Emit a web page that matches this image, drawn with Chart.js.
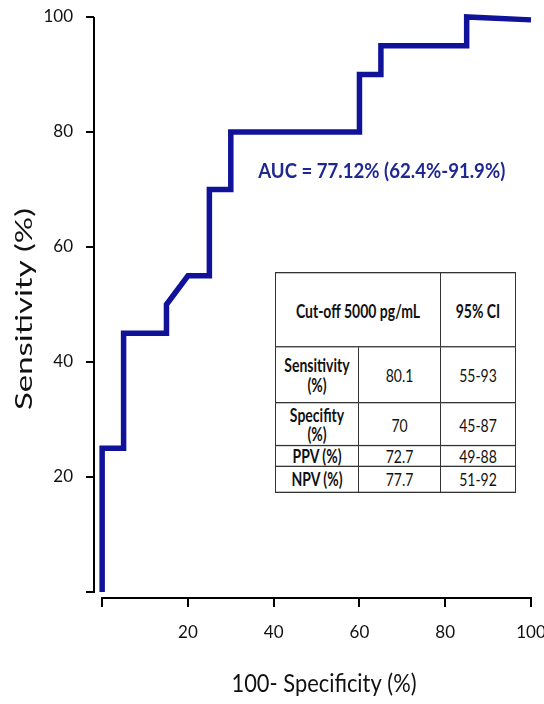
<!DOCTYPE html>
<html lang="en">
<head>
    <meta charset="UTF-8">
    <title>ROC curve</title>
    <script src="https://cdn.jsdelivr.net/npm/chart.js"></script>
    <style>
        html, body {
            margin: 0;
            padding: 0;
            background: #fff;
        }

        #wrap {
            position: relative;
            width: 544px;
            height: 704px;
        }

        /* the source figure is stretched vertically, so the table is too */
        #statsTable {
            position: absolute;
            left: 275px;
            top: 272px;
            width: 240px;
            height: 168px;
            transform: scaleY(1.3);
            transform-origin: top left;
            border-collapse: collapse;
            table-layout: fixed;
            font-family: Lato, sans-serif;
            font-size: 14px;
            color: #111;
            text-align: center;
            background: #fff;
        }

        #statsTable td {
            border: 1.5px solid #333;
            padding: 0;
            line-height: 15px;
            overflow: hidden;
        }

        #statsTable .b {
            font-weight: bold;
        }
    </style>
</head>
<body>
    <div id="wrap">
        <canvas id="rocChart" width="544" height="704"></canvas>

        <table id="statsTable">
            <colgroup>
                <col style="width:83px">
                <col style="width:82px">
                <col style="width:75px">
            </colgroup>
            <tr style="height:57px">
                <td class="b" colspan="2">Cut-off 5000 pg/mL</td>
                <td class="b">95% CI</td>
            </tr>
            <tr style="height:43px">
                <td class="b">Sensitivity<br>(%)</td>
                <td>80.1</td>
                <td>55-93</td>
            </tr>
            <tr style="height:33px">
                <td class="b">Specifity<br>(%)</td>
                <td>70</td>
                <td>45-87</td>
            </tr>
            <tr style="height:15px">
                <td class="b">PPV (%)</td>
                <td>72.7</td>
                <td>49-88</td>
            </tr>
            <tr style="height:20px">
                <td class="b">NPV (%)</td>
                <td>77.7</td>
                <td>51-92</td>
            </tr>
        </table>
    </div>

    <script>
        // ROC curve points (100 - specificity, sensitivity)
        const falsePosRate = [0, 0, 5, 5, 15, 15, 20, 25, 25, 30, 30, 60, 60, 65, 65, 85, 85, 100];
        const sensitivity = [0, 25, 25, 45, 45, 50, 55, 55, 70, 70, 80, 80, 90, 90, 95, 95, 100, 99.5];

        const xTicks = [0, 20, 40, 60, 80, 100];
        const yTicks = [0, 20, 40, 60, 80, 100];

        const aucLabel = 'AUC = 77.12% (62.4%-91.9%)';
        const xTitle = '100- Specificity (%)';
        const yTitle = 'Sensitivity (%)';

        const navy = '#10139a';
        const fontFamily = 'Lato, sans-serif';

        const points = falsePosRate.map((x, i) => ({ x: x, y: sensitivity[i] }));

        // draw text squeezed/stretched to a given width (the original figure is distorted)
        function drawFitted(ctx, text, cx, cy, angle, width, font, color) {
            ctx.save();
            ctx.font = font;
            ctx.fillStyle = color;
            ctx.textAlign = 'center';
            ctx.textBaseline = 'middle';
            ctx.translate(cx, cy);
            ctx.rotate(angle);
            ctx.scale(width / ctx.measureText(text).width, 1);
            ctx.fillText(text, 0, 0);
            ctx.restore();
        }

        // Axis lines drawn separately so the two axes stay detached (Prism style)
        const decorations = {
            id: 'decorations',
            afterDraw(chart) {
                const { ctx, chartArea, scales } = chart;
                const x = scales.x, y = scales.y;
                ctx.save();
                ctx.strokeStyle = '#000';
                ctx.lineWidth = 2;
                ctx.beginPath();
                ctx.moveTo(chartArea.left, y.getPixelForValue(100));
                ctx.lineTo(chartArea.left, y.getPixelForValue(0) + 1);
                ctx.moveTo(x.getPixelForValue(0) - 1, chartArea.bottom);
                ctx.lineTo(x.getPixelForValue(100) + 1, chartArea.bottom);
                ctx.stroke();
                ctx.restore();

                // AUC annotation, left edge at x = 36.4
                const aucLeft = x.getPixelForValue(36.4);
                drawFitted(ctx, aucLabel, aucLeft + 123.5, y.getPixelForValue(73.2), 0, 247,
                    'bold 21px ' + fontFamily, '#1f2790');

                // axis titles
                drawFitted(ctx, xTitle, 324, 684, 0, 185, '25px ' + fontFamily, '#111');
                drawFitted(ctx, yTitle, 24, 309, -Math.PI / 2, 202, '24px ' + fontFamily, '#111');
            }
        };

        const ctx = document.getElementById('rocChart').getContext('2d');
        new Chart(ctx, {
            type: 'scatter',
            data: {
                datasets: [{
                    data: points,
                    showLine: true,
                    borderColor: navy,
                    borderWidth: 5.5,
                    pointRadius: 0,
                    tension: 0,
                    borderJoinStyle: 'miter',
                    clip: false
                }]
            },
            options: {
                responsive: false,
                animation: false,
                events: [],
                layout: {
                    padding: { top: 17, right: 13, bottom: 0, left: 0 }
                },
                plugins: {
                    legend: { display: false },
                    tooltip: { enabled: false }
                },
                scales: {
                    x: {
                        type: 'linear',
                        min: -1.9,
                        max: 100,
                        afterBuildTicks: s => { s.ticks = xTicks.map(v => ({ value: v })); },
                        afterFit: s => {
                            s.height = 106;
                            s.paddingLeft = 0;
                            s.paddingRight = 0;
                        },
                        border: { display: false },
                        grid: {
                            drawOnChartArea: false,
                            drawTicks: true,
                            tickLength: 9,
                            color: '#000',
                            lineWidth: 2
                        },
                        ticks: {
                            color: '#111',
                            padding: 15,
                            maxRotation: 0,
                            font: { family: fontFamily, size: 17 },
                            callback: v => v === 0 ? '' : v
                        }
                    },
                    y: {
                        type: 'linear',
                        min: -1.05,
                        max: 100,
                        afterBuildTicks: s => { s.ticks = yTicks.map(v => ({ value: v })); },
                        afterFit: s => {
                            s.width = 94;
                            s.paddingTop = 0;
                            s.paddingBottom = 0;
                        },
                        border: { display: false },
                        grid: {
                            drawOnChartArea: false,
                            drawTicks: true,
                            tickLength: 8,
                            color: '#000',
                            lineWidth: 2
                        },
                        ticks: {
                            color: '#111',
                            padding: 13,
                            font: { family: fontFamily, size: 17 },
                            callback: v => v === 0 ? '' : v
                        }
                    }
                }
            },
            plugins: [decorations]
        });
    </script>
</body>
</html>
